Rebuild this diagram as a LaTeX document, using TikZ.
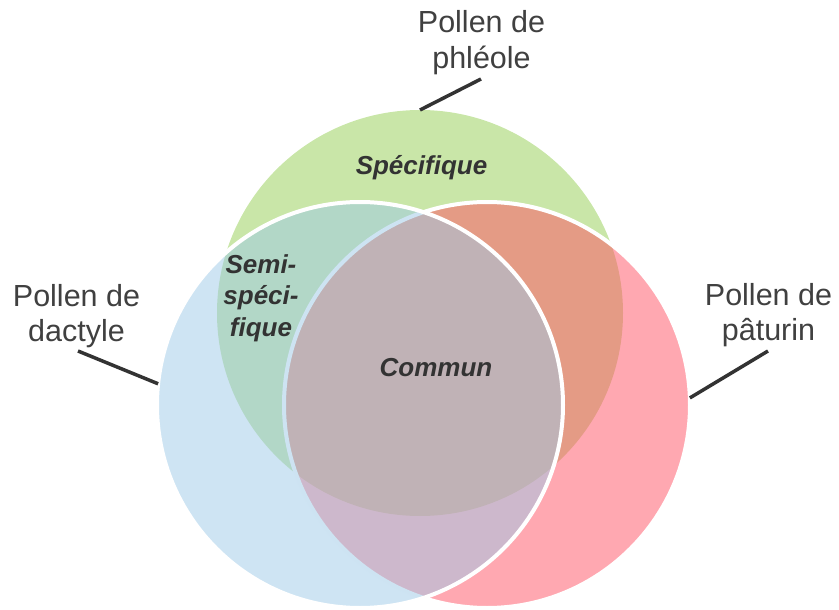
\documentclass[tikz,border=0pt]{standalone}
\usepackage{fontspec}
\setmainfont{Liberation Sans}
\definecolor{grn}{RGB}{201,230,168}
\definecolor{rd}{RGB}{255,81,99}
\definecolor{bl}{RGB}{157,201,231}
\definecolor{txt}{RGB}{64,64,64}
\definecolor{lbl}{RGB}{51,51,51}
\begin{document}
\begin{tikzpicture}[x=1pt,y=-1pt,
  venn/.style={circle, minimum size=406pt, inner sep=0pt, outer sep=0pt},
  vennedge/.style={venn, fill opacity=0.5, draw=white, line width=4pt},
  outerlbl/.style={font=\fontsize{30.5}{35.5}\selectfont, text=txt, align=center, inner sep=0pt},
  innerlbl/.style={font=\fontsize{26}{31.5}\selectfont\bfseries\itshape, text=lbl, align=center, inner sep=0pt},
  conn/.style={draw=lbl, line width=3.5pt}]
\useasboundingbox (0,0) rectangle (839,610);
\node[venn, fill=grn] (green) at (420,313) {};
\node[vennedge, fill=rd] (red) at (487,405) {};
\node[vennedge, fill=bl] (blue) at (360,405) {};
\node[outerlbl] (lphl) at (481.5,42.5) {Pollen de\\phléole};
\node[outerlbl] (ldac) at (76.5,316) {Pollen de\\dactyle};
\node[outerlbl] (lpat) at (768.5,315) {Pollen de\\pâturin};
\coordinate (cphl) at (481,79);
\coordinate (cdac) at (78,351);
\coordinate (cpat) at (768,351);
\draw[conn] (green.north) -- (cphl);
\draw[conn] (blue.174) -- (cdac);
\draw[conn] (red.2) -- (cpat);
\node[innerlbl, anchor=base] (spec) at (421.5,174) {Spécifique};
\node[innerlbl, anchor=base] (comm) at (436,376) {Commun};
\node[innerlbl] (semi) at (261,298) {Semi-\\spéci-\\fique};
\end{tikzpicture}
\end{document}
